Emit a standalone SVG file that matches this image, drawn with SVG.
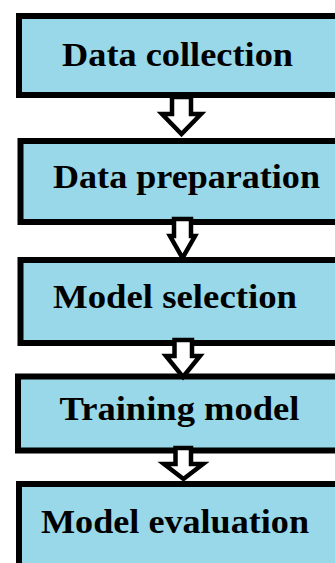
<svg xmlns="http://www.w3.org/2000/svg" width="335" height="563" viewBox="0 0 335 563">
<style>
.box{fill:#98d8e8;stroke:#000;stroke-width:6}
.lbl{font-family:"Liberation Serif","Times New Roman",serif;font-weight:bold;font-size:33px;fill:#000}
.arr{fill:#fff;stroke:#000;stroke-width:4.5;stroke-linejoin:miter}
</style>
<rect width="335" height="563" fill="#fff"/>
<g id="n1"><rect class="box" x="19" y="16" width="330" height="79"/><text class="lbl" x="62" y="66" textLength="231" lengthAdjust="spacingAndGlyphs">Data collection</text></g>
<g id="n2"><rect class="box" x="20.5" y="141" width="330" height="81"/><text class="lbl" x="53" y="188" textLength="267" lengthAdjust="spacingAndGlyphs">Data preparation</text></g>
<g id="n3"><rect class="box" x="20.5" y="260" width="330" height="83"/><text class="lbl" x="53" y="308" textLength="244" lengthAdjust="spacingAndGlyphs">Model selection</text></g>
<g id="n4"><rect class="box" x="18" y="376.5" width="330" height="74"/><text class="lbl" x="59.5" y="420" textLength="240" lengthAdjust="spacingAndGlyphs">Training model</text></g>
<g id="n5"><rect class="box" x="19" y="484" width="330" height="100"/><text class="lbl" x="41" y="532.5" textLength="268" lengthAdjust="spacingAndGlyphs">Model evaluation</text></g>
<g id="connectors">
<polygon class="arr" points="172,97 191,97 191,114 201,114 181.5,134 162,114 172,114"/>
<polygon class="arr" points="174,219 191,219 191,236 195,236 182.5,258 170,236 174,236"/>
<polygon class="arr" points="174.5,340 192,340 192,356 200,356 183,377 166,356 174.5,356"/>
<polygon class="arr" points="175.5,448 191,448 191,464 203,464 183.5,479 164,464 175.5,464"/>
</g>
</svg>
